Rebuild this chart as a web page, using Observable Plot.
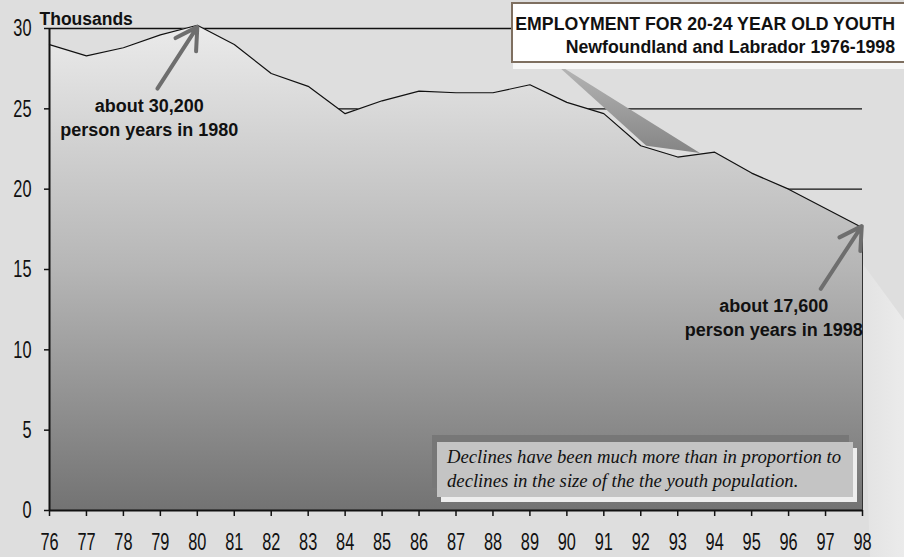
<!DOCTYPE html>
<html>
<head>
<meta charset="utf-8">
<script src="https://cdn.jsdelivr.net/npm/d3@7"></script>
<script src="https://cdn.jsdelivr.net/npm/@observablehq/plot@0.6"></script>
<style>
  html, body { margin: 0; padding: 0; }
  body { width: 904px; height: 557px; overflow: hidden; position: relative; background: #dedede;
         font-family: "Liberation Sans", Arial, sans-serif; }
  #deco { position: absolute; left: 860px; top: 200px; width: 44px; height: 357px;
          background: linear-gradient(90deg, #e2e2e2, #ebebeb);
          clip-path: polygon(0px 60px, 44px 120px, 44px 357px, 10px 357px); }
  #chart { position: absolute; left: 0; top: 0; }
  #title { position: absolute; left: 511px; top: 2px; width: 405px; height: 61px; box-sizing: border-box;
           background: #ffffff; border: 2px solid #7e6f60; text-align: right; font-weight: bold;
           font-size: 17.7px; line-height: 23px; padding: 9px 19px 0 0; color: #111; white-space: nowrap; }
  #titleShadow { position: absolute; left: 513px; top: 63px; width: 400px; height: 6px; background: #f7f7f7; }
  #noteBack { position: absolute; left: 432px; top: 435px; width: 417px; height: 53px; background: #777777; }
  #noteShadow { position: absolute; left: 441px; top: 448px; width: 416px; height: 54px; background: #eeeeee; }
  #note { position: absolute; left: 437px; top: 442px; width: 416px; height: 55px; box-sizing: border-box;
          background: #c4c4c4; font-family: "Liberation Serif", "Times New Roman", serif; font-style: italic;
          font-size: 18.7px; line-height: 24px; padding: 3px 0 0 10px; color: #111; white-space: nowrap; }
</style>
</head>
<body>
<div id="deco"></div>
<div id="chart"></div>
<div id="titleShadow"></div>
<div id="title">EMPLOYMENT FOR 20-24 YEAR OLD YOUTH<br>Newfoundland and Labrador 1976-1998</div>
<div id="noteBack"></div>
<div id="noteShadow"></div>
<div id="note">Declines have been much more than in proportion to<br>declines in the size of the the youth population.</div>
<script>
// ---- data ----
const years = [76,77,78,79,80,81,82,83,84,85,86,87,88,89,90,91,92,93,94,95,96,97,98];
const employment = [29.0,28.3,28.8,29.6,30.2,29.0,27.2,26.4,24.7,25.5,26.1,26.0,26.0,26.5,25.4,24.7,22.7,22.0,22.3,21.0,20.0,18.8,17.6];
const yTicks = [0,5,10,15,20,25,30];
const gridValues = [20,25,30];

// annotations (data space)
const labelTexts = ["about 30,200\nperson years in 1980", "about 17,600\nperson years in 1998"];
const labelX = [78.7, 95.6];
const labelY = [24.55, 12.1];
const arrowX1 = [78.92, 96.87];
const arrowY1 = [26.26, 13.8];
const arrowX2 = [80.0, 97.98];
const arrowY2 = [30.1, 17.7];
// callout wedge from the title box to the 1992-93 part of the line
const wedgeX = [89.6, 92.15, 93.6];
const wedgeY = [28.0, 22.7, 22.25];

const data = years.map((y, i) => ({year: y, value: employment[i]}));
const labels = labelTexts.map((t, i) => ({text: t, x: labelX[i], y: labelY[i]}));
const arrows = arrowX1.map((x, i) => ({x1: x, y1: arrowY1[i], x2: arrowX2[i], y2: arrowY2[i]}));
const wedge = wedgeX.map((x, i) => ({x, y: wedgeY[i]}));

const font = '"Liberation Sans", Arial, sans-serif';

const defs = () => {
  const d = d3.create("svg:defs");
  const g = d.append("linearGradient").attr("id", "areaGrad")
    .attr("x1", 0).attr("x2", 0).attr("y1", 0).attr("y2", 1);
  g.append("stop").attr("offset", "0%").attr("stop-color", "#ebebeb");
  g.append("stop").attr("offset", "50%").attr("stop-color", "#b6b6b6");
  g.append("stop").attr("offset", "100%").attr("stop-color", "#737373");
  const w = d.append("linearGradient").attr("id", "wedgeGrad")
    .attr("x1", 0).attr("x2", 0).attr("y1", 0).attr("y2", 1);
  w.append("stop").attr("offset", "0%").attr("stop-color", "#b8b8b8");
  w.append("stop").attr("offset", "100%").attr("stop-color", "#858585");
  return d.node();
};

const chart = Plot.plot({
  width: 904,
  height: 557,
  marginLeft: 49,
  marginRight: 42,
  marginTop: 28,
  marginBottom: 47,
  style: {fontFamily: font, fontSize: "24px", background: "transparent", color: "#111", overflow: "visible"},
  x: {domain: [76, 98], label: null},
  y: {domain: [0, 30], label: null},
  marks: [
    defs,
    Plot.ruleY(gridValues, {x1: 76, x2: 98, stroke: "#111", strokeWidth: 1.3}),
    Plot.areaY(data, {x: "year", y: "value", fill: "url(#areaGrad)"}),
    Plot.line(wedge, {x: "x", y: "y", fill: "url(#wedgeGrad)", stroke: "none", curve: "linear-closed"}),
    Plot.line(data, {x: "year", y: "value", stroke: "#111", strokeWidth: 1.2}),
    Plot.ruleX([98], {y1: 0, y2: employment[employment.length - 1], stroke: "#333", strokeWidth: 1}),
    Plot.arrow(arrows, {x1: "x1", y1: "y1", x2: "x2", y2: "y2", stroke: "#6e6e6e", strokeWidth: 4, headLength: 13, headAngle: 60}),
    Plot.text(labels, {x: "x", y: "y", text: "text", fontSize: 18, fontWeight: "bold", lineHeight: 1.33, lineAnchor: "middle", fill: "#111"}),
    Plot.axisX({ticks: years, tickFormat: d => String(d), tickSize: 6, tickPadding: 16, strokeWidth: 1.5, fontSize: 24}),
    Plot.axisY({ticks: yTicks, tickSize: 5, tickPadding: 13, strokeWidth: 1.5, fontSize: 24}),
    Plot.ruleX([76], {stroke: "#111", strokeWidth: 2}),
    Plot.ruleY([0], {stroke: "#111", strokeWidth: 2}),
    Plot.text(["Thousands"], {frameAnchor: "top-left", dx: -10, dy: -4, textAnchor: "start", lineAnchor: "bottom", fontSize: 17.5, fontWeight: "bold", fill: "#111"})
  ]
});

// condense tick labels horizontally (the original uses a narrow typeface)
d3.select(chart).selectAll('g[aria-label="x-axis tick label"] text, g[aria-label="y-axis tick label"] text')
  .each(function() {
    const t = d3.select(this);
    const tr = t.attr("transform");
    if (tr) t.attr("transform", tr + " scale(0.68,1)");
    else t.attr("transform", `translate(${+t.attr("x") || 0},${+t.attr("y") || 0}) scale(0.68,1)`).attr("x", null).attr("y", null);
  });

document.getElementById("chart").appendChild(chart);
</script>
</body>
</html>
